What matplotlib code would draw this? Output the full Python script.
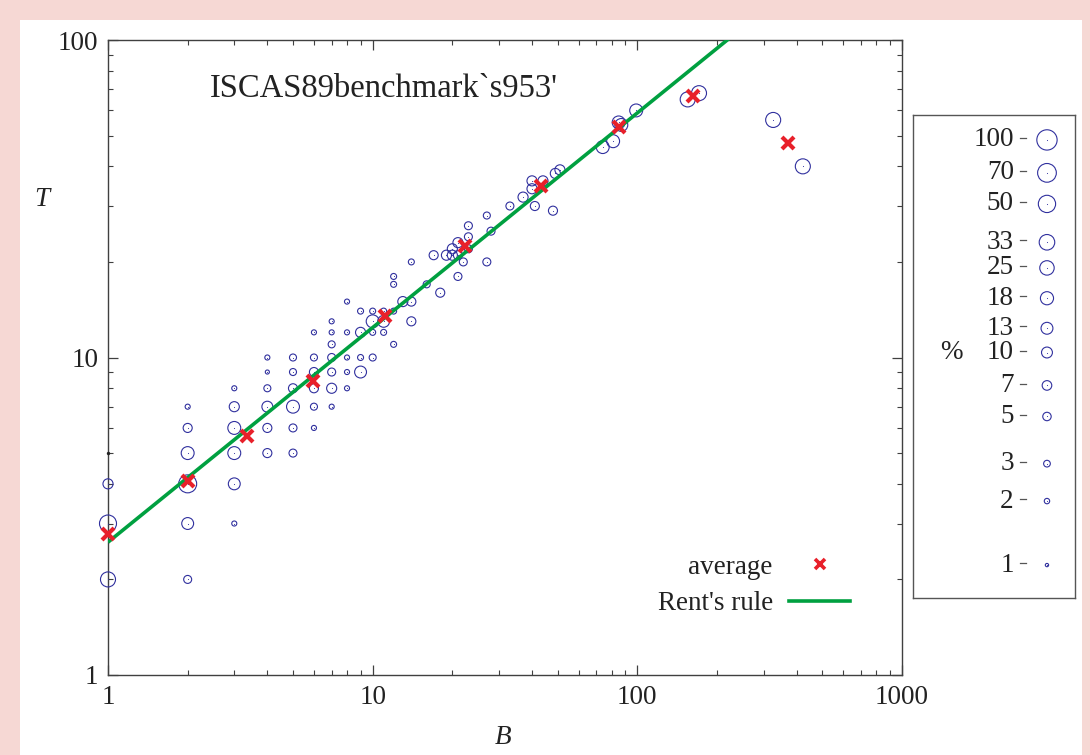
import numpy as np
import matplotlib
matplotlib.use("Agg")
import matplotlib.pyplot as plt
from matplotlib.lines import Line2D
from matplotlib.patches import Rectangle

plt.rcParams['font.family'] = ['Liberation Serif', 'DejaVu Serif']

# ---------------- data ----------------
blocks = [1, 1, 1,
          2, 2, 2, 2, 2, 2,
          3, 3, 3, 3, 3, 3,
          4, 4, 4, 4, 4, 4,
          5, 5, 5, 5, 5, 5,
          6, 6, 6, 6, 6, 6,
          7, 7, 7, 7, 7, 7, 7,
          8, 8, 8, 8, 8,
          9, 9, 9, 9,
          10, 10, 10, 10,
          11, 11, 11,
          12, 12, 12, 12,
          13,
          14, 14, 14,
          16, 17, 18, 19,
          20, 20,
          21, 21, 21,
          22,
          23, 23, 23,
          27, 27, 28, 33, 37,
          40, 40, 41, 44, 48, 49, 51,
          74, 81, 85, 87, 99,
          155, 171, 326, 422]
terminals = [2, 3, 4,
             2, 3, 4, 5, 6, 7,
             3, 4, 5, 6, 7, 8,
             5, 6, 7, 8, 9, 10,
             5, 6, 7, 8, 9, 10,
             6, 7, 8, 9, 10, 12,
             7, 8, 9, 10, 11, 12, 13,
             8, 9, 10, 12, 15,
             9, 10, 12, 14,
             10, 12, 13, 14,
             12, 13, 14,
             11, 14, 17, 18,
             15,
             13, 15, 20,
             17, 21, 16, 21,
             21, 22,
             23, 21, 18,
             20,
             26, 24, 22,
             28, 20, 25, 30, 32,
             34, 36, 30, 36, 29, 38, 39,
             46, 48, 55, 54, 60,
             65, 68, 56, 40]
percent = [29, 47, 8,
           4.4, 13, 59, 17, 6, 1.8,
           1.8, 13, 17, 17, 8, 1.8,
           6, 6, 10, 3.3, 1.3, 1.8,
           4.4, 4.4, 17, 6, 3.3, 3.3,
           1.8, 3.3, 6, 6, 3.3, 1.8,
           1.8, 8, 4.4, 4.4, 3.3, 1.8, 1.8,
           1.8, 1.8, 1.8, 1.8, 1.8,
           13, 2.4, 8, 2.4,
           3.3, 2.4, 17, 2.4,
           2.4, 13, 2.4,
           2.4, 2.4, 2.4, 2.4,
           8,
           6, 6, 2.4,
           3.3, 6, 6, 8,
           8, 8,
           8, 6, 4.4,
           4.4,
           4.4, 4.4, 4.4,
           3.3, 4.4, 4.4, 4.4, 8,
           8, 8, 6, 8, 6, 8, 8,
           17, 17, 17, 17, 17,
           29, 29, 29, 29]

avg_blocks = [1, 2.0, 3.35, 5.95, 11.1, 22.3, 43.2, 85.2, 162, 370]
avg_terminals = [2.78, 4.08, 5.66, 8.43, 13.5, 22.4, 34.7, 53.2, 66.6, 47.4]

dot_blocks = [1]
dot_terminals = [5]

rent_t = 2.62
rent_p = 0.676

legend_percent = [100, 70, 50, 33, 25, 18, 13, 10, 7, 5, 3, 2, 1]

x_ticks = [1, 10, 100, 1000]
x_ticklabels = ["1", "10", "100", "1000"]
y_ticks = [1, 10, 100]
y_ticklabels = ["1", "10", "100"]

# ---------------- style ----------------
W, H, DPI = 1090, 755, 100
CIRC = '#30309e'
RED = '#e8202a'
GREEN = '#00a040'
AXC = '#404040'
TXT = '#222222'
FS = 19.5
FS_TITLE = 23.5


def diam_px(p):
    L = np.log10(np.asarray(p, dtype=float))
    return 3.3 + 6.7 * L + 0.9 * L ** 2


def msize(p):
    return (diam_px(p) * 0.72) ** 2


fig = plt.figure(figsize=(W / DPI, H / DPI), dpi=DPI)
fig.patch.set_facecolor('#f6d8d4')
bg = Rectangle((20 / W, 0), (1082 - 20) / W, 1 - 20 / H,
               transform=fig.transFigure, facecolor='white',
               edgecolor='none', zorder=-10)
fig.add_artist(bg)

ax = fig.add_axes([108 / W, 80 / H, 794 / W, 635 / H])
ax.set_xscale('log')
ax.set_yscale('log')
ax.set_xlim(1, 1000)
ax.set_ylim(1, 100)
ax.set_facecolor('none')

ax.scatter(blocks, terminals, s=msize(percent), facecolors='none',
           edgecolors=CIRC, linewidths=0.8, zorder=3, clip_on=False)
ax.scatter(blocks, terminals, s=0.6, color=CIRC, zorder=3, clip_on=False,
           linewidths=0)
ax.scatter(dot_blocks, dot_terminals, s=6, color=TXT, zorder=3,
           clip_on=False, linewidths=0)

bx = np.logspace(0, 3, 200)
ax.plot(bx, rent_t * bx ** rent_p, color=GREEN, lw=2.6, zorder=4,
        solid_capstyle='butt')
ax.plot(avg_blocks, avg_terminals, linestyle='none', marker='x',
        color=RED, markersize=8, markeredgewidth=3, zorder=5, clip_on=False)

for sp in ax.spines.values():
    sp.set_color(AXC)
    sp.set_linewidth(1.0)
ax.tick_params(which='both', direction='in', top=True, right=True,
               colors=AXC, labelcolor=TXT, labelsize=FS)
ax.tick_params(which='major', length=7, width=0.9)
ax.tick_params(which='minor', length=3.6, width=0.8)
ax.tick_params(axis='y', which='major', pad=7)
ax.tick_params(axis='x', which='major', pad=7)
ax.set_xticks(x_ticks)
ax.set_xticklabels(x_ticklabels)
ax.set_yticks(y_ticks)
ax.set_yticklabels(y_ticklabels)

ax.text(0.1285, 0.924, "ISCAS89benchmark`s953'", transform=ax.transAxes,
        ha='left', va='center', fontsize=FS_TITLE, color=TXT)

fig.text(42 / W, 1 - 200 / H, 'T', style='italic', fontsize=FS,
         ha='center', va='center', color=TXT)
fig.text(503 / W, 1 - 738 / H, 'B', style='italic', fontsize=FS,
         ha='center', va='center', color=TXT)

handles = [Line2D([], [], linestyle='none', marker='x', color=RED,
                  markersize=6.5, markeredgewidth=2.6),
           Line2D([], [], color=GREEN, lw=2.6)]
leg = ax.legend(handles, ['average', "Rent's rule"], markerfirst=False,
                frameon=False, fontsize=FS, loc='lower right',
                bbox_to_anchor=((850 - 108) / 794, (675 - 616) / 635),
                handlelength=2.25, handletextpad=0.6, labelspacing=0.42,
                borderaxespad=0, borderpad=0)
for t in leg.get_texts():
    t.set_color(TXT)

# ---------------- size key box ----------------
kx = fig.add_axes([913 / W, (755 - 598) / H, 162 / W, 483 / H])
kx.set_yscale('log')
kx.set_ylim(0.70, 131)
kx.set_xlim(0, 1)
kx.set_xticks([])
kx.set_yticks([])
kx.minorticks_off()
kx.set_facecolor('none')
for sp in kx.spines.values():
    sp.set_color('#555555')
    sp.set_linewidth(1.0)
kx.scatter([0.827] * len(legend_percent), legend_percent,
           s=msize(legend_percent), facecolors='none', edgecolors=CIRC,
           linewidths=0.8)
kx.scatter([0.827] * len(legend_percent), legend_percent, s=0.6,
           color=CIRC, linewidths=0)
for p in legend_percent:
    kx.text(0.622, p, str(p), ha='right', va='center', fontsize=FS,
            color=TXT)
    kx.plot([0.663, 0.700], [p * 1.02, p * 1.02], color='#555555', lw=0.9)
kx.text((951 - 913) / 162, 10, '%', ha='center', va='center', fontsize=FS,
        color=TXT)

fig.savefig('out.png', dpi=DPI, facecolor=fig.get_facecolor())
